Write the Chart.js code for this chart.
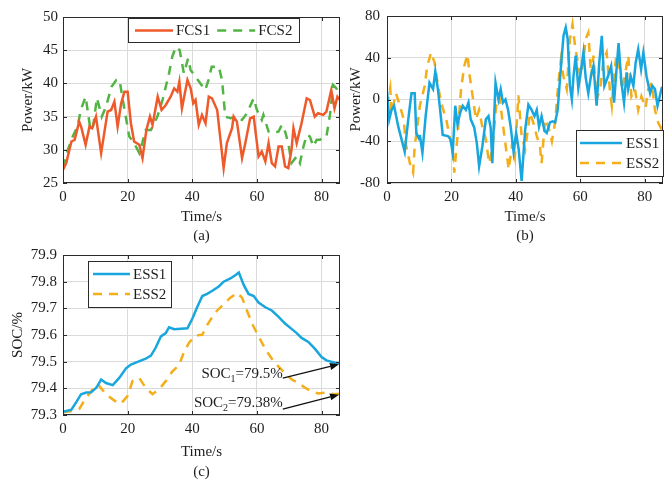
<!DOCTYPE html>
<html>
<head>
<meta charset="utf-8">
<script src="https://cdn.jsdelivr.net/npm/chart.js@4.4.1/dist/chart.umd.min.js"></script>
<style>
html,body{margin:0;padding:0;background:#fff;}
body{width:668px;height:484px;position:relative;overflow:hidden;}
canvas{position:absolute;}
#chartA{left:0;top:0;}
#chartB{left:345px;top:0;}
#chartC{left:0;top:240px;}
</style>
</head>
<body>
<canvas id="chartA" width="345" height="250"></canvas>
<canvas id="chartB" width="323" height="250"></canvas>
<canvas id="chartC" width="345" height="244"></canvas>
<script>
// ---- data ----
var timeTicks = [0, 20, 40, 60, 80];
var powerTicksA = [25, 30, 35, 40, 45, 50];
var powerTicksB = [-80, -40, 0, 40, 80];
var socTicks = [79.3, 79.4, 79.5, 79.6, 79.7, 79.8, 79.9];

var fcs1Time = [0,1,2.6,3.6,5,5.6,7,8.2,9,10.2,11.8,13.8,14.9,15.9,16.9,18,19,20,21,22,23.6,24.6,25.8,26.9,27.7,29.3,30.5,31.8,33.3,34.4,35.4,36,36.8,38.5,39.5,40.3,41,42,43,44.1,45.1,46.1,47.7,49.7,50.7,52.3,52.8,53.8,55.4,56.4,57.9,59,60.5,61.5,62.6,63.6,64.6,65.6,66.7,67.7,68.7,69.7,70.7,71.3,72.3,73.8,75.4,76.4,77.9,78.9,80.5,81.5,83,84,84.9,85.7];
var fcs1Power = [27,28,31.25,31.5,34.25,33.5,30.75,33.5,33.25,35,29.5,35.75,36,37.25,33.5,37,38.75,38.75,34,31.25,30.75,28.75,33,35,33.75,38,36,36.75,38,39.25,38.75,40.25,36.25,40.5,39.25,37,37.5,33.75,35.25,34,38,37.75,36,27.25,31,33.25,35,34.25,28.75,31,34.75,35,29,29.75,28.25,31,28,27.5,30.5,30.5,27.5,27.25,30,33.25,31,34,37.75,37.5,35,35.5,35.25,35.75,39,36.25,38,37.5];

var fcs2Time = [0,1.5,3,4.5,5.5,7,8.5,9.3,10.5,12,13.3,15,16.5,17.5,18.5,20.5,22,23.6,24.5,25.6,27.2,29.2,30.8,32.8,33.8,34.9,36.1,37.4,38.7,39.5,41,42.5,44,45,46,48.2,49.2,50.2,51.8,53.8,55.4,56.9,59,60,61.5,62,63.6,65,66.7,67.7,68.7,69.7,70.7,72.3,73.3,74.4,75.4,76.4,77.4,78.5,79.5,80.5,81.5,82.6,83.6,84.6,85.7];
var fcs2Power = [27.25,30,32,33.5,36,38,33,33.5,37.8,35,36.5,39.5,40.5,40.5,37.5,32,31,29.5,31,33,33,35,37.5,41.5,44,45.5,45,41.5,43.75,42,41,40,39,40.5,42.5,42.5,40.5,35,34.75,35,34.5,35.5,37.75,36,34.5,35.25,32.75,32.5,32.75,33.75,32.75,31,28,29,28,30.5,32.25,32,30.5,31.5,31.5,32,32,35.25,39.75,39.25,38];

var ess1Time = [0,0.7,1.4,2.2,3.5,4.5,5.5,6.6,7.6,8.6,9.1,10,10.2,11,12,13.2,14.3,15,15.8,16.5,17.3,18.9,19.7,20.4,21.2,21.9,22.7,23.5,24.5,25.3,26,27.1,27.9,28.6,29.6,30.7,31.5,32.2,32.7,33.7,34.6,35.3,36,36.8,37.6,38.4,39.3,40.1,40.9,41.8,42.9,43.9,44.9,45.8,46.5,47.2,48,48.9,49.6,50.6,51.4,52.2,53,53.7,54.8,55.5,56.1,56.8,57.4,57.9,58.6,59.4,60.3,61,61.7,62.5,63.4,64.1,65.1,65.9,66.7,67.5,68.6,69.6,70.5,71.2,71.9,72.8,73.6,74.4,74.9,75.7,76.5,77.2,78,78.9,79.6,80.6,81.7,82.4,83.2,84,85.3,85.7];
var ess1Power = [8,-19,-10,-6,-26,-38,-50,-19,6,6,-32,-38,-34,-51,-16,16,10,27,10,-10,-34,-35,-38,-51,-6,-24,-13,-6,-10,-3,-19,-27,-42,-64,-45,-19,-16,-27,-61,16,0,10,-3,0,-10,-26,-50,-32,-48,-78,-29,-5,-10,-16,-10,-26,-16,-30,-32,-22,-21,-22,-10,19,61,69,58,13,0,22,42,11,29,45,21,6,24,32,-6,35,61,13,22,32,-3,26,54,16,-3,26,10,22,13,35,48,29,45,22,6,13,10,-6,11,12];

var ess2Time = [0,1,1.4,2.8,4,5.2,5.8,7.1,8.1,8.6,9.4,10.2,11.7,12.5,13.7,14.8,15.8,16.8,18.4,19.4,20.4,20.9,21.9,23,24,25,25.7,26.6,27.6,28.6,29.6,30.7,31.7,32.7,33.9,34.9,35.8,37,37.8,38.9,39.7,40.8,41.8,42.9,44.4,45.4,46.5,47.5,48,49.1,50.1,51.2,52.2,53.2,54,54.8,55.8,56.8,57.6,58.4,59.3,60,61,61.7,62.5,63.4,64.1,65.1,66.2,67.2,68.2,69.3,69.8,70.6,71.2,72.3,73,73.8,74.9,75.9,77,78,79,80.3,81.1,82.2,83.2,84.2,85,85.7];
var ess2Power = [-6,11,-13,6,-6,-19,-42,-61,-70,-45,-26,-6,13,32,45,35,14,-3,-19,-35,-48,-70,-35,10,32,43,22,3,-19,-10,-26,-38,-61,-48,-6,3,-19,-48,-67,-42,-55,4,-35,-48,-13,-22,-35,-45,-61,-19,-26,-40,-22,16,38,22,10,58,72,51,35,22,38,58,64,22,42,0,10,38,45,6,-6,26,42,29,10,22,42,3,10,-10,3,-8,10,16,-10,-22,-27,-20];

var soc1Time = [0,2.6,4.1,5.6,7.2,8.7,10.3,11.8,13.3,15.4,17.4,19.5,21,23.1,25.6,27.2,28.7,30.3,31.8,32.8,34.4,38.5,40,41.5,43.1,44.6,46.2,48.2,49.7,51.8,53.3,54.4,55.9,57.4,59,60.5,62.6,64.6,66.7,68.7,70.8,72.3,73.8,75.9,77.9,80,81.5,84.1,85.7];
var soc1Value = [79.312,79.32,79.348,79.378,79.384,79.385,79.402,79.433,79.42,79.412,79.439,79.475,79.489,79.499,79.511,79.523,79.553,79.595,79.607,79.629,79.622,79.625,79.661,79.704,79.746,79.754,79.766,79.782,79.8,79.812,79.824,79.834,79.788,79.754,79.746,79.722,79.704,79.692,79.668,79.643,79.622,79.607,79.589,79.574,79.549,79.517,79.505,79.496,79.495];

var soc2Time = [0,3.1,5.1,7.2,9.2,10.8,13.3,15.9,17.9,20,21.5,23.6,25.6,27.7,29.7,31.8,33.8,35.9,37.4,39,41,43.1,44.6,46.2,47.7,49.7,51.8,53.8,55.4,56.9,58.5,60.5,62.6,64.6,66.7,68.7,70.8,72.8,74.9,76.9,79,81,84.1,85.7];
var soc2Value = [79.31,79.316,79.324,79.366,79.396,79.415,79.378,79.354,79.342,79.372,79.427,79.439,79.402,79.378,79.396,79.427,79.463,79.487,79.535,79.571,79.598,79.601,79.637,79.668,79.692,79.716,79.74,79.758,79.74,79.692,79.643,79.595,79.547,79.511,79.481,79.456,79.433,79.42,79.402,79.388,79.381,79.384,79.378,79.38];

// final SOC notes: text, where the text ends, arrow tail and head (data units)
var socNotes = [
	{main: "SOC", sub: "1", tail: "=79.5%", textAt: [68, 79.452], from: [68, 79.438], to: [85.4, 79.49]},
	{main: "SOC", sub: "2", tail: "=79.38%", textAt: [68, 79.343], from: [68, 79.322], to: [85.4, 79.376]}
];

var TIME_MAX = 85.7;
var SERIF = '"Liberation Serif", "Times New Roman", serif';
var INK = '#1e1e1e';

Chart.defaults.font.family = SERIF;
Chart.defaults.font.size = 15;
Chart.defaults.color = INK;

function pts(xs, ys) {
	var out = [];
	for (var i = 0; i < xs.length; i++) out.push({x: xs[i], y: ys[i]});
	return out;
}

function fixTicks(arr) {
	return function(scale) {
		scale.ticks = arr.map(function(v) { return {value: v}; });
	};
}

// box + inward ticks on all four sides, like the matlab axes
var frameTicks = {
	id: 'frameTicks',
	afterDatasetsDraw: function(chart) {
		var ctx = chart.ctx, a = chart.chartArea, sx = chart.scales.x, sy = chart.scales.y;
		ctx.save();
		ctx.strokeStyle = '#2b2b2b';
		ctx.lineWidth = 1;
		ctx.beginPath();
		sx.ticks.forEach(function(t) {
			var p = Math.round(sx.getPixelForValue(t.value)) + 0.5;
			ctx.moveTo(p, a.bottom); ctx.lineTo(p, a.bottom - 4);
			ctx.moveTo(p, a.top); ctx.lineTo(p, a.top + 4);
		});
		sy.ticks.forEach(function(t) {
			var p = Math.round(sy.getPixelForValue(t.value)) + 0.5;
			ctx.moveTo(a.left, p); ctx.lineTo(a.left + 4, p);
			ctx.moveTo(a.right, p); ctx.lineTo(a.right - 4, p);
		});
		ctx.stroke();
		ctx.strokeRect(Math.round(a.left) + 0.5, Math.round(a.top) + 0.5, Math.round(a.right - a.left) - 1, Math.round(a.bottom - a.top) - 1);
		ctx.restore();
	}
};

var boxLegend = {
	id: 'boxLegend',
	afterDraw: function(chart, args, o) {
		var ctx = chart.ctx, a = chart.chartArea, sets = chart.data.datasets;
		ctx.save();
		ctx.font = '15px ' + SERIF;
		var widths = sets.map(function(d) { return ctx.measureText(d.label).width; });
		var w, h;
		if (o.row) {
			w = o.pad;
			widths.forEach(function(tw) { w += o.sample + o.gap + tw + o.pad; });
			h = o.rowH + 4;
		} else {
			w = o.pad + o.sample + o.gap + Math.max.apply(null, widths) + o.pad;
			h = sets.length * o.rowH + 6;
		}
		var x0 = o.right != null ? a.right - o.right - w : a.left + o.left;
		var y0 = o.bottom != null ? a.bottom - o.bottom - h : a.top + o.top;
		x0 = Math.round(x0); y0 = Math.round(y0); w = Math.round(w);
		ctx.fillStyle = '#fff';
		ctx.fillRect(x0, y0, w, h);
		ctx.strokeStyle = '#2b2b2b';
		ctx.lineWidth = 1;
		ctx.strokeRect(x0 + 0.5, y0 + 0.5, w, h);
		var cx = x0 + o.pad;
		sets.forEach(function(d, i) {
			var cy = o.row ? y0 + h / 2 + 0.5 : y0 + 3 + o.rowH * (i + 0.5);
			var sx = o.row ? cx : x0 + o.pad;
			ctx.beginPath();
			ctx.setLineDash(d.borderDash || []);
			ctx.strokeStyle = d.borderColor;
			ctx.lineWidth = d.borderWidth;
			ctx.moveTo(sx, cy); ctx.lineTo(sx + o.sample, cy);
			ctx.stroke();
			ctx.setLineDash([]);
			ctx.fillStyle = INK;
			ctx.textBaseline = 'middle';
			ctx.textAlign = 'left';
			ctx.fillText(d.label, sx + o.sample + o.gap, cy + 1);
			cx = sx + o.sample + o.gap + widths[i] + o.pad;
		});
		ctx.restore();
	}
};

var socArrows = {
	id: 'socArrows',
	afterDraw: function(chart, args, o) {
		if (!o.notes) return;
		var ctx = chart.ctx, sx = chart.scales.x, sy = chart.scales.y;
		ctx.save();
		o.notes.forEach(function(n) {
			var big = '15px ' + SERIF, small = '10px ' + SERIF;
			ctx.font = big;
			var w1 = ctx.measureText(n.main).width, w3 = ctx.measureText(n.tail).width;
			ctx.font = small;
			var w2 = ctx.measureText(n.sub).width;
			var ex = sx.getPixelForValue(n.textAt[0]), ey = sy.getPixelForValue(n.textAt[1]);
			var px = ex - (w1 + w2 + w3);
			ctx.fillStyle = INK;
			ctx.textBaseline = 'middle';
			ctx.textAlign = 'left';
			ctx.font = big; ctx.fillText(n.main, px, ey);
			ctx.font = small; ctx.fillText(n.sub, px + w1, ey + 5);
			ctx.font = big; ctx.fillText(n.tail, px + w1 + w2, ey);
			// arrow
			var x1 = sx.getPixelForValue(n.from[0]), y1 = sy.getPixelForValue(n.from[1]);
			var x2 = sx.getPixelForValue(n.to[0]), y2 = sy.getPixelForValue(n.to[1]);
			var ang = Math.atan2(y2 - y1, x2 - x1), L = 9, W = 3.5;
			ctx.strokeStyle = '#111';
			ctx.lineWidth = 1.3;
			ctx.beginPath();
			ctx.moveTo(x1, y1);
			ctx.lineTo(x2 - L * Math.cos(ang), y2 - L * Math.sin(ang));
			ctx.stroke();
			ctx.fillStyle = '#111';
			ctx.beginPath();
			ctx.moveTo(x2, y2);
			ctx.lineTo(x2 - L * Math.cos(ang) + W * Math.sin(ang), y2 - L * Math.sin(ang) - W * Math.cos(ang));
			ctx.lineTo(x2 - L * Math.cos(ang) - W * Math.sin(ang), y2 - L * Math.sin(ang) + W * Math.cos(ang));
			ctx.closePath();
			ctx.fill();
		});
		ctx.restore();
	}
};

function series(label, xs, ys, color, dashed) {
	return {
		label: label,
		data: pts(xs, ys),
		borderColor: color,
		borderWidth: 2.5,
		borderDash: dashed ? [9, 7] : [],
		pointRadius: 0,
		tension: 0,
		fill: false
	};
}

function makePanel(id, cfg) {
	return new Chart(document.getElementById(id), {
		type: 'line',
		data: {datasets: cfg.datasets},
		options: {
			responsive: false,
			animation: false,
			devicePixelRatio: 1,
			layout: {padding: cfg.padding},
			plugins: {
				legend: {display: false},
				tooltip: {enabled: false},
				boxLegend: cfg.legend,
				socArrows: {notes: cfg.notes}
			},
			scales: {
				x: {
					type: 'linear',
					min: 0,
					max: TIME_MAX,
					afterBuildTicks: fixTicks(timeTicks),
					afterFit: function(s) { s.height = cfg.xHeight; },
					grid: {color: '#dadada', lineWidth: 1, drawTicks: false},
					border: {display: false},
					ticks: {padding: 5, color: INK, maxRotation: 0},
					title: {display: true, text: cfg.xTitle, color: INK,
						font: {size: 15, lineHeight: cfg.xLine / 15}, padding: {top: 0, bottom: cfg.xTitleBottom}}
				},
				y: {
					min: cfg.yTicks[0],
					max: cfg.yTicks[cfg.yTicks.length - 1],
					afterBuildTicks: fixTicks(cfg.yTicks),
					afterFit: function(s) { s.width = cfg.yWidth; },
					grid: {color: '#dadada', lineWidth: 1, drawTicks: false},
					border: {display: false},
					ticks: {padding: cfg.yPad, color: INK, callback: cfg.yFmt},
					title: {display: true, text: cfg.yTitle, color: INK,
						font: {size: 15, lineHeight: 1.1}, padding: {top: cfg.yTitleTop, bottom: 0}}
				}
			}
		},
		plugins: [frameTicks, boxLegend, socArrows]
	});
}

makePanel('chartA', {
	datasets: [
		series('FCS1', fcs1Time, fcs1Power, '#ee5a2a', false),
		series('FCS2', fcs2Time, fcs2Power, '#52b443', true)
	],
	padding: {top: 17, right: 5, left: 0, bottom: 0},
	xHeight: 67, xLine: 19, xTitleBottom: 4, xTitle: ['Time/s', '(a)'],
	yTicks: powerTicksA, yWidth: 63, yPad: 5, yTitle: 'Power/kW', yTitleTop: 20,
	yFmt: function(v) { return v; },
	legend: {row: true, left: 65, top: 1, pad: 7, sample: 38, gap: 3, rowH: 20},
	notes: null
});

makePanel('chartB', {
	datasets: [
		series('ESS1', ess1Time, ess1Power, '#18a6de', false),
		series('ESS2', ess2Time, ess2Power, '#f3ae19', true)
	],
	padding: {top: 16, right: 5, left: 0, bottom: 0},
	xHeight: 67, xLine: 19, xTitleBottom: 4, xTitle: ['Time/s', '(b)'],
	yTicks: powerTicksB, yWidth: 42, yPad: 7, yTitle: 'Power/kW', yTitleTop: 3,
	yFmt: function(v) { return v; },
	legend: {row: false, right: 0, bottom: 7, pad: 4, sample: 42, gap: 4, rowH: 20},
	notes: null
});

makePanel('chartC', {
	datasets: [
		series('ESS1', soc1Time, soc1Value, '#18a6de', false),
		series('ESS2', soc2Time, soc2Value, '#f3ae19', true)
	],
	padding: {top: 9, right: 5, left: 0, bottom: 0},
	xHeight: 69, xLine: 20, xTitleBottom: 2, xTitle: ['Time/s', '(c)'],
	yTicks: socTicks, yWidth: 63, yPad: 6, yTitle: 'SOC/%', yTitleTop: 10,
	yFmt: function(v) { return Number(v).toFixed(1); },
	legend: {row: false, left: 25, top: 6, pad: 5, sample: 37, gap: 3, rowH: 20},
	notes: socNotes
});
</script>
</body>
</html>
